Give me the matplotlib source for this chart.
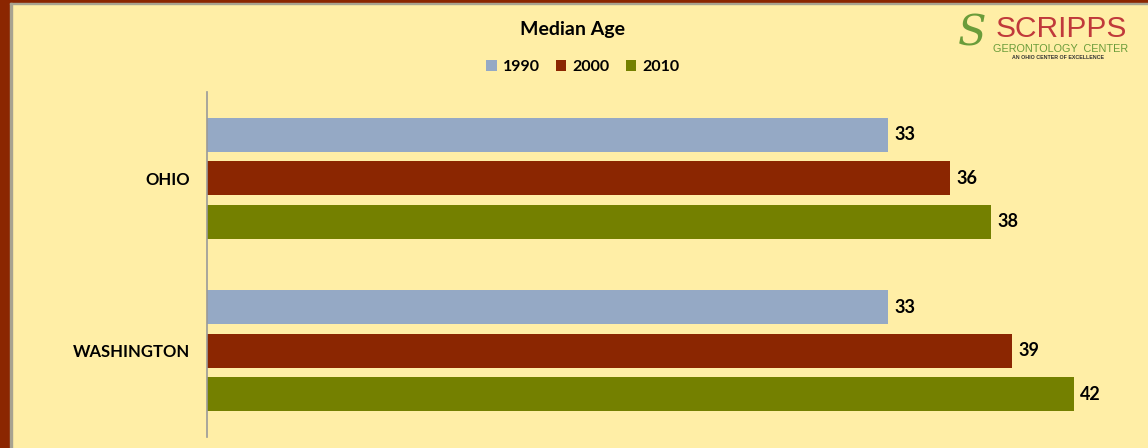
import matplotlib.pyplot as plt
import numpy as np
from matplotlib.patches import Rectangle

states = ['OHIO', 'WASHINGTON']
years = ['1990', '2000', '2010']
ages_1990 = [33, 33]
ages_2000 = [36, 39]
ages_2010 = [38, 42]
colors = ['#95a9c5', '#8b2601', '#748000']

plt.rcParams['font.family'] = ['Lato', 'DejaVu Sans']
bg = '#ffeea6'

fig = plt.figure(figsize=(11.48, 4.48), dpi=100)
fig.patch.set_facecolor(bg)

# frame: dark strip on left and top, thin gray line inside
fig.patches.append(Rectangle((0, 0), 10 / 1148, 1, transform=fig.transFigure, color='#8b2601', zorder=0))
fig.patches.append(Rectangle((0, 1 - 3 / 448), 1, 3 / 448, transform=fig.transFigure, color='#8b2601', zorder=0))
fig.patches.append(Rectangle((10 / 1148, 0), 1.5 / 1148, 1 - 3 / 448, transform=fig.transFigure, color='#a8a390', zorder=0))
fig.patches.append(Rectangle((10 / 1148, 1 - 4.5 / 448), 1, 1.5 / 448, transform=fig.transFigure, color='#a8a390', zorder=0))

ax = fig.add_axes([207 / 1148, 1 - 437 / 448, 1 - 207 / 1148, 345 / 448])
ax.set_facecolor('none')

y = np.arange(len(states))
step = 0.252
h = 0.197
for i, vals in enumerate([ages_1990, ages_2000, ages_2010]):
    pos = y + (i - 1) * step
    ax.barh(pos, vals, height=h, color=colors[i], label=years[i])
    for p, v in zip(pos, vals):
        ax.text(v + 0.3, p, str(v), va='center', ha='left', fontsize=13, fontweight='bold')

ax.set_xlim(0, (1148 - 207) / 20.64)
ax.set_ylim(1.5, -0.5)
ax.set_xticks([])
ax.set_yticks(y)
ax.set_yticklabels(states, fontsize=12, fontweight='bold')
ax.tick_params(axis='y', length=0, pad=12)
for s in ['top', 'right', 'bottom']:
    ax.spines[s].set_visible(False)
ax.spines['left'].set_color('#999999')
ax.spines['left'].set_linewidth(1.2)

fig.text(573 / 1148, 1 - 30 / 448, 'Median Age', ha='center', va='center', fontsize=14, fontweight='bold')
fig.legend(loc='center', bbox_to_anchor=(583 / 1148, 1 - 67 / 448), ncol=3, frameon=False,
           prop={'size': 11.5, 'weight': 'bold'}, handlelength=0.65, handleheight=0.65,
           columnspacing=1.0, handletextpad=0.4)

# logo
fig.text(996 / 1148, 1 - 29 / 448, 'SCRIPPS', ha='left', va='center', fontsize=21.5, color='#c0393b',
         family=['Liberation Sans', 'DejaVu Sans'])
fig.text(972 / 1148, 1 - 34 / 448, 'S', ha='center', va='center', fontsize=30, color='#6a9c3a',
         family=['DejaVu Serif'], style='italic')
fig.text(1061 / 1148, 1 - 49.5 / 448, 'GERONTOLOGY  CENTER', ha='center', va='center', fontsize=7.8,
         color='#6a9c3a', family=['Liberation Sans', 'DejaVu Sans'])
fig.text(1058 / 1148, 1 - 57.5 / 448, 'AN OHIO CENTER OF EXCELLENCE', ha='center', va='center', fontsize=3.8,
         color='#333333', fontweight='bold', family=['Liberation Sans', 'DejaVu Sans'])

fig.savefig('out.png', dpi=100, facecolor=bg)
